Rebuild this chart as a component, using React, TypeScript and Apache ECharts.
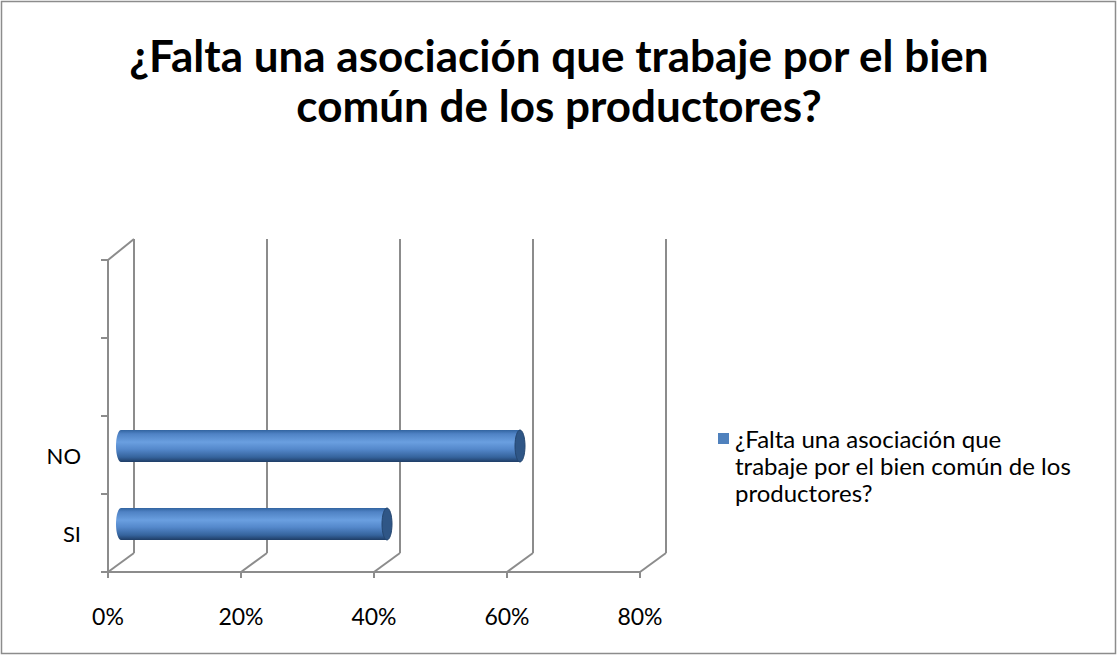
import React, { useEffect, useRef } from "react";
import * as echarts from "echarts";

const categories = ["SI", "NO", "", ""];
const values = [0.4, 0.6];
const xTicks = [0, 0.2, 0.4, 0.6, 0.8];
const titleLines = ["¿Falta una asociación que trabaje por el bien", "común de los productores?"];
const legendLines = ["¿Falta una asociación que", "trabaje por el bien común de los", "productores?"];
const seriesName = legendLines.join(" ");

const W = 1118;
const H = 656;
const DX = 26;
const DYB = -19;
const DYT = -21;
const BAR_DX = 13;
const BAR_DY = -9;
const GRID_COLOR = "#8c8c8c";
const FONT = "Lato";

export default function App() {
  const ref = useRef<HTMLDivElement>(null);
  useEffect(() => {
    if (!ref.current) return;
    const chart = echarts.init(ref.current, undefined, { renderer: "svg" });
    const pct = (v: number) => Math.round(v * 100) + "%";
    const option: any = {
      animation: false,
      backgroundColor: "#ffffff",
      title: {
        text: titleLines.join("\n"),
        left: "center",
        top: 25,
        textStyle: { fontFamily: FONT, fontSize: 44, fontWeight: "bold", lineHeight: 50, color: "#000" },
      },
      grid: [
        { left: 108, top: 260, width: 532, height: 312 },
        { left: 108 + DX, top: 260 + DYT, width: 532, height: 312 - DYT + DYB },
      ],
      xAxis: [
        {
          gridIndex: 0,
          type: "value",
          min: 0,
          max: 0.8,
          interval: 0.2,
          axisLine: { show: true, lineStyle: { color: GRID_COLOR, width: 2 } },
          axisTick: { show: true, length: 6, lineStyle: { color: GRID_COLOR, width: 2 } },
          axisLabel: { formatter: pct, margin: 32, fontFamily: FONT, fontSize: 23, color: "#000" },
          splitLine: { show: false },
        },
        {
          gridIndex: 1,
          type: "value",
          min: 0,
          max: 0.8,
          interval: 0.2,
          axisLine: { show: false },
          axisTick: { show: false },
          axisLabel: { show: false },
          splitLine: { show: true, lineStyle: { color: GRID_COLOR, width: 2 } },
        },
      ],
      yAxis: [
        {
          gridIndex: 0,
          type: "category",
          data: categories,
          axisLine: { show: true, lineStyle: { color: GRID_COLOR, width: 2 } },
          axisTick: { show: true, length: 7, lineStyle: { color: GRID_COLOR, width: 2 } },
          axisLabel: { margin: 27, fontFamily: FONT, fontSize: 22, color: "#000" },
          splitLine: { show: false },
        },
        {
          gridIndex: 1,
          type: "category",
          data: categories,
          axisLine: { show: false },
          axisTick: { show: false },
          axisLabel: { show: false },
          splitLine: { show: false },
        },
      ],
      series: [
        {
          type: "custom",
          name: "wall",
          xAxisIndex: 0,
          yAxisIndex: 0,
          silent: true,
          data: xTicks.map((v) => [v]),
          encode: { x: 0 },
          renderItem: (params: any, api: any) => {
            const cs = params.coordSys;
            const x = api.coord([api.value(0), 0])[0];
            const bottom = cs.y + cs.height;
            const children: any[] = [
              {
                type: "line",
                shape: { x1: x, y1: bottom, x2: x + DX, y2: bottom + DYB },
                style: { stroke: GRID_COLOR, lineWidth: 2 },
              },
            ];
            if (api.value(0) === 0) {
              children.push({
                type: "line",
                shape: { x1: x, y1: cs.y, x2: x + DX, y2: cs.y + DYT },
                style: { stroke: GRID_COLOR, lineWidth: 2 },
              });
            }
            return { type: "group", children };
          },
        },
        {
          type: "custom",
          name: seriesName,
          xAxisIndex: 0,
          yAxisIndex: 0,
          data: values.map((v, i) => [v, i]),
          encode: { x: 0, y: 1 },
          renderItem: (params: any, api: any) => {
            const idx = api.value(1);
            const s = api.coord([0, idx]);
            const e = api.coord([api.value(0), idx]);
            const h = api.size([0, 1])[1] * 0.41;
            const cy = s[1] + BAR_DY;
            const x0 = s[0] + BAR_DX;
            const x1 = e[0] + BAR_DX;
            const rx = 5;
            const grad = new echarts.graphic.LinearGradient(0, 0, 0, 1, [
              { offset: 0, color: "#3264a0" },
              { offset: 0.12, color: "#4f82c4" },
              { offset: 0.38, color: "#6a9fe0" },
              { offset: 0.6, color: "#5488cb" },
              { offset: 0.85, color: "#35639c" },
              { offset: 1, color: "#1f3d66" },
            ]);
            return {
              type: "group",
              children: [
                {
                  type: "ellipse",
                  shape: { cx: x0, cy, rx, ry: h / 2 },
                  style: { fill: grad },
                },
                {
                  type: "rect",
                  shape: { x: x0, y: cy - h / 2, width: x1 - x0, height: h },
                  style: { fill: grad },
                },
                {
                  type: "ellipse",
                  shape: { cx: x1, cy, rx, ry: h / 2 },
                  style: { fill: "#2f5686", stroke: "#244670", lineWidth: 1 },
                },
              ],
            };
          },
        },
      ],
      graphic: [
        {
          type: "rect",
          shape: { x: 1.5, y: 1.5, width: W - 4, height: H - 4 },
          style: { fill: "none", stroke: GRID_COLOR, lineWidth: 1.5 },
          silent: true,
        },
        {
          type: "rect",
          shape: { x: 718, y: 433, width: 11, height: 11 },
          style: { fill: "#4f81bd" },
        },
        {
          type: "text",
          x: 735,
          y: 425,
          style: {
            text: legendLines.join("\n"),
            fontFamily: FONT,
            fontSize: 24,
            lineHeight: 27,
            fill: "#000",
          },
        },
      ],
    };
    chart.setOption(option);
    return () => chart.dispose();
  }, []);
  return (
    <div
      ref={ref}
      style={{ position: "absolute", left: 0, top: 0, width: W, height: H }}
    />
  );
}
